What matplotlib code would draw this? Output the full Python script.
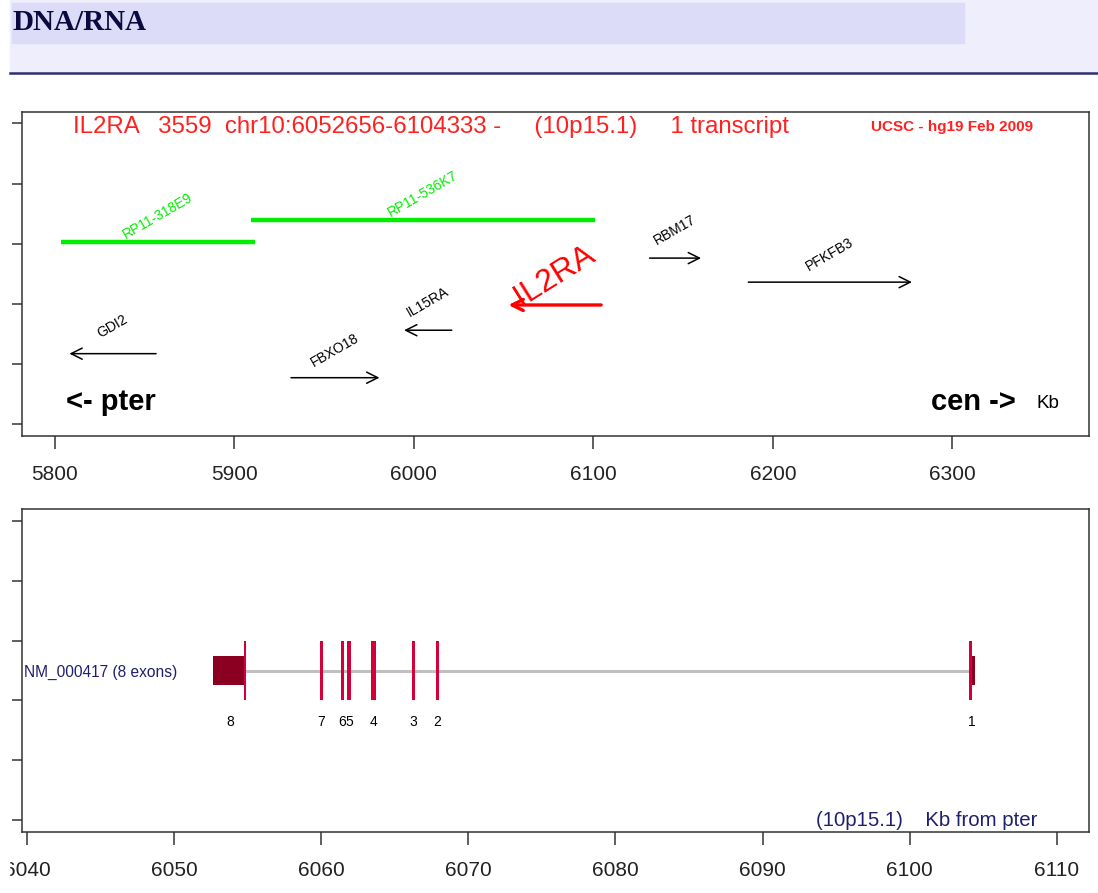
import matplotlib
matplotlib.use('Agg')
import matplotlib.pyplot as plt
from matplotlib.patches import Rectangle, FancyArrowPatch
from matplotlib.lines import Line2D

plt.rcParams['font.family'] = ['Liberation Sans', 'DejaVu Sans']

# ---- data: gene map (kb from pter) ----
genes = ['GDI2', 'FBXO18', 'IL15RA', 'IL2RA', 'RBM17', 'PFKFB3']
gene_start = [5808.0, 5931.5, 5994.5, 6052.656, 6131.3, 6186.3]
gene_end = [5856.3, 5980.8, 6021.1, 6104.333, 6160.0, 6277.5]
gene_strand = ['-', '+', '-', '-', '+', '+']
gene_track = [1.17, 0.77, 1.56, 1.98, 2.76, 2.36]

clones = ['RP11-318E9', 'RP11-536K7']
clone_start = [5803.3, 5909.0]
clone_end = [5911.4, 6100.7]
clone_track = [3.02, 3.39]

map_ticks = [5800, 5900, 6000, 6100, 6200, 6300]

# ---- data: transcript NM_000417 exons ----
exon_num = [8, 7, 6, 5, 4, 3, 2, 1]
cds_start = [6054.76, 6059.90, 6061.31, 6061.76, 6063.39, 6066.18, 6067.79, 6104.04]
cds_end = [6054.89, 6060.13, 6061.52, 6061.99, 6063.71, 6066.38, 6068.00, 6104.24]
utr_start = [6052.656, 6104.24]
utr_end = [6054.76, 6104.45]

tx_ticks = [6040, 6050, 6060, 6070, 6080, 6090, 6100, 6110]

W, H = 1098, 893
fig = plt.figure(figsize=(W / 100, H / 100), dpi=100)


def px_box(x0, y0, x1, y1):
    return [x0 / W, 1 - y1 / H, (x1 - x0) / W, (y1 - y0) / H]


# ---- page header ----
fig.patches.append(Rectangle((10 / W, 1 - 72 / H), 1, 72 / H,
                             transform=fig.transFigure, color='#eeeefc', zorder=0))
fig.patches.append(Rectangle((12 / W, 1 - 43 / H), (964 - 12) / W, 40 / H,
                             transform=fig.transFigure, color='#dcdcf8', zorder=0))
fig.lines.append(Line2D([10 / W, 1], [1 - 73 / H, 1 - 73 / H], transform=fig.transFigure,
                        color='#30306e', lw=1.8))
fig.text(12 / W, 1 - 23 / H, 'DNA/RNA', family='Liberation Serif', weight='bold',
         fontsize=21, color='#0a0a40', va='center', ha='left')

spine_col = '#333333'


def style_axes(ax, xt):
    for s in ax.spines.values():
        s.set_color(spine_col)
        s.set_linewidth(1.1)
    ax.set_yticks(range(6))
    ax.set_yticklabels([])
    ax.set_xticks(xt)
    ax.set_xticklabels([str(t) for t in xt])
    ax.tick_params(axis='y', direction='out', length=7.5, width=1.1, color=spine_col)
    ax.tick_params(axis='x', direction='out', length=9, width=1.1, color=spine_col,
                   labelsize=15, labelcolor='#222222', pad=12)


# ---- top panel: genes around IL2RA ----
ax1 = fig.add_axes(px_box(22, 111.7, 1088.7, 436))
ax1.set_xlim(5781.6, 6376)
ax1.set_ylim(-0.2, 5.196)
style_axes(ax1, map_ticks)

for name, s, e, y in zip(clones, clone_start, clone_end, clone_track):
    ax1.plot([s, e], [y, y], color='#00ee00', lw=3.2, solid_capstyle='butt')
    ax1.annotate(name, xy=((s + e) / 2, y), xytext=(0, 19), textcoords='offset points',
                 ha='center', va='center', rotation=30, fontsize=10, color='#00ee00')

for name, s, e, strand, y in zip(genes, gene_start, gene_end, gene_strand, gene_track):
    tail, head = (s, e) if strand == '+' else (e, s)
    main = name == 'IL2RA'
    col = '#ff0000' if main else 'black'
    arr = FancyArrowPatch((tail, y), (head, y), arrowstyle='->,head_length=0.4,head_width=0.2',
                          mutation_scale=20, color=col, lw=2.4 if main else 1.1,
                          shrinkA=0, shrinkB=0)
    ax1.add_patch(arr)
    ax1.annotate(name, xy=((s + e) / 2, y), xytext=(0, 21 if main else 20),
                 textcoords='offset points', ha='center', va='center',
                 rotation=32 if main else 30, fontsize=23 if main else 10, color=col)

ax1.text(0.0478, 0.952, 'IL2RA   3559  chr10:6052656-6104333 -     (10p15.1)     1 transcript',
         transform=ax1.transAxes, color='#ff2020', fontsize=17.3, ha='left', va='center')
ax1.text(0.7956, 0.952, 'UCSC - hg19 Feb 2009', transform=ax1.transAxes, color='#ff2020',
         fontsize=11, weight='bold', ha='left', va='center')
ax1.text(0.0412, 0.106, '<- pter', transform=ax1.transAxes, fontsize=21, weight='bold',
         ha='left', va='center')
ax1.text(0.932, 0.106, 'cen ->', transform=ax1.transAxes, fontsize=21, weight='bold',
         ha='right', va='center')
ax1.text(0.9506, 0.0987, 'Kb', transform=ax1.transAxes, fontsize=13.5, ha='left', va='center')

# ---- bottom panel: transcript structure ----
ax2 = fig.add_axes(px_box(22, 509.3, 1088.7, 831.7))
ax2.set_xlim(6039.64, 6112.18)
ax2.set_ylim(-0.196, 5.196)
style_axes(ax2, tx_ticks)

ax2.plot([cds_end[0], cds_start[-1]], [2.5, 2.5], color='#c0c0c0', lw=2.2, zorder=1)
for s, e in zip(utr_start, utr_end):
    ax2.add_patch(Rectangle((s, 2.25), e - s, 0.5, color='#8b0021', lw=0, zorder=2))
for s, e in zip(cds_start, cds_end):
    ax2.add_patch(Rectangle((s, 2.0), e - s, 1.0, color='#d4003a', lw=0, zorder=3))

for i, n in enumerate(exon_num):
    parts = [(u, v) for u, v in zip(utr_start, utr_end)
             if v >= cds_start[i] - 0.01 and u <= cds_end[i] + 0.01]
    lo = min([cds_start[i]] + [u for u, v in parts])
    hi = max([cds_end[i]] + [v for u, v in parts])
    ax2.text((lo + hi) / 2, 1.64, str(n), ha='center', va='center', fontsize=10)

ax2.text(0.0019, 2.47, 'NM_000417 (8 exons)', transform=ax2.get_yaxis_transform(),
         color='#1f1f6f', fontsize=11.2, ha='left', va='center')
ax2.text(0.952, 0.017, '(10p15.1)    Kb from pter', transform=ax2.transAxes,
         color='#1f1f6f', fontsize=14.7, ha='right', va='baseline')

# left page margin clips the first tick label
fig.patches.append(Rectangle((0, 1 - 890 / H), 9 / W, 40 / H, transform=fig.transFigure,
                             color='white', zorder=10))

fig.savefig('out.png', dpi=100, facecolor='white')
